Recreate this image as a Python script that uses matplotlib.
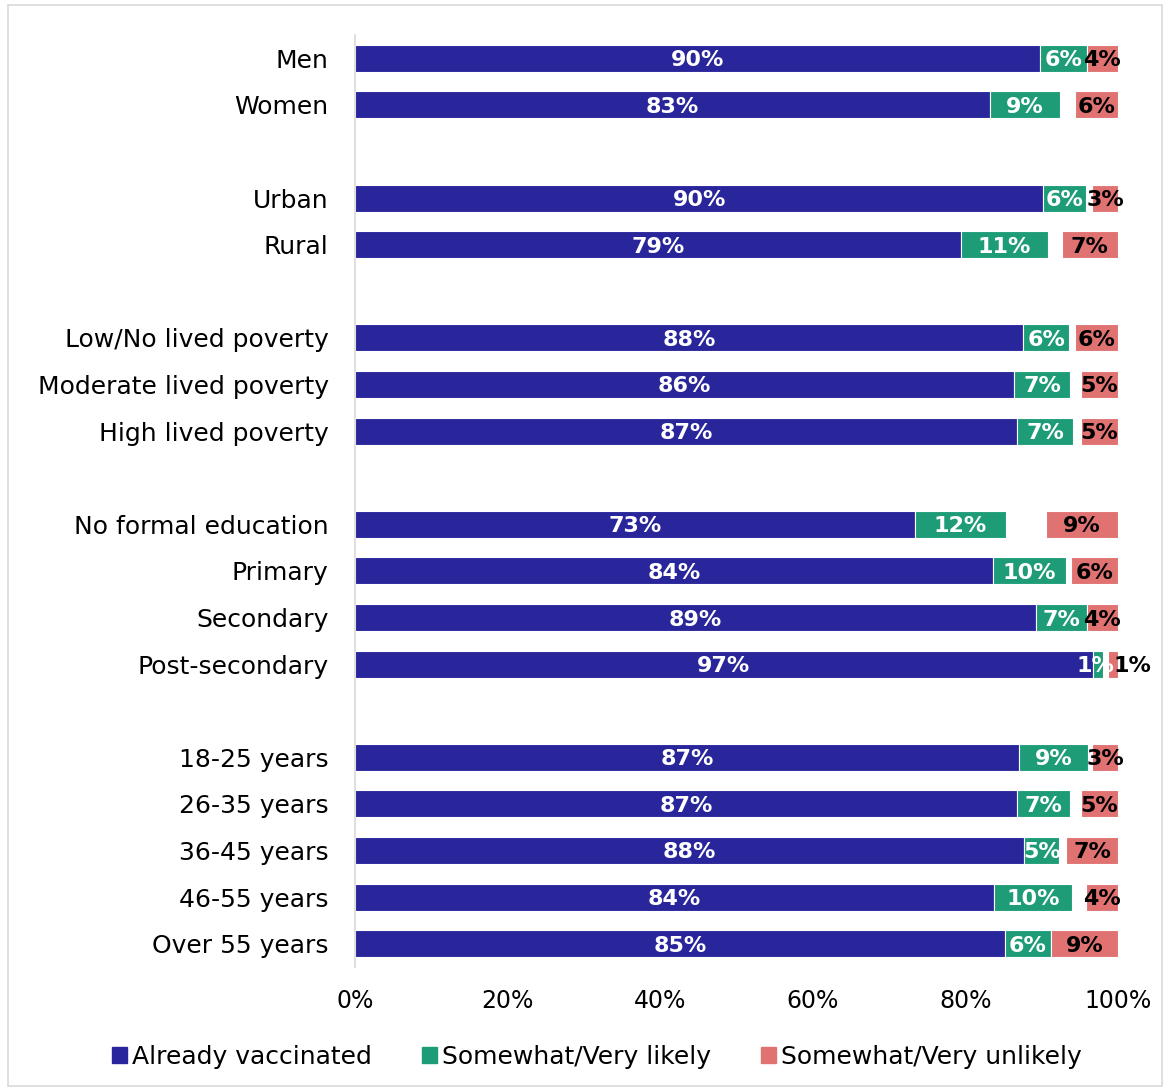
import matplotlib
matplotlib.use("Agg")
import matplotlib.pyplot as plt
from matplotlib.patches import Rectangle

categories = ["Men", "Women", "", "Urban", "Rural", "",
              "Low/No lived poverty", "Moderate lived poverty", "High lived poverty", "",
              "No formal education", "Primary", "Secondary", "Post-secondary", "",
              "18-25 years", "26-35 years", "36-45 years", "46-55 years", "Over 55 years"]
vaccinated = [89.8, 83.2, None, 90.2, 79.4, None, 87.6, 86.4, 86.8, None,
              73.4, 83.6, 89.3, 96.7, None, 87.0, 86.8, 87.7, 83.7, 85.2]
likely = [6.1, 9.2, None, 5.6, 11.4, None, 6.0, 7.3, 7.3, None,
          11.9, 9.6, 6.6, 1.3, None, 9.1, 6.9, 4.6, 10.3, 6.0]
unlikely = [4.1, 5.6, None, 3.4, 7.4, None, 5.6, 4.9, 4.9, None,
            9.4, 6.2, 4.1, 1.3, None, 3.4, 4.9, 6.8, 4.2, 8.8]
series_names = ["Already vaccinated", "Somewhat/Very likely", "Somewhat/Very unlikely"]
colors = ["#29259a", "#1e9c78", "#e07272"]
xticks = [0, 20, 40, 60, 80, 100]

plt.rcParams['font.family'] = ['DejaVu Sans']
fig = plt.figure(figsize=(11.7, 10.88), dpi=100)
ax = fig.add_axes([355/1170, 1-967/1088, (1118-355)/1170, (967-35)/1088])

bh = 0.58
lab_kw = dict(ha="center", va="center_baseline", fontsize=16, fontweight="bold")
for i, cat in enumerate(categories):
    if vaccinated[i] is None:
        continue
    v, l, u = vaccinated[i], likely[i], unlikely[i]
    ax.barh(i, v, left=0, height=bh, color=colors[0], edgecolor="white", linewidth=0.8)
    ax.barh(i, l, left=v, height=bh, color=colors[1], edgecolor="white", linewidth=0.8)
    ax.barh(i, u, left=100-u, height=bh, color=colors[2], edgecolor="white", linewidth=0.8)
    ax.text(v/2, i, f"{round(v)}%", color="white", **lab_kw)
    if l < 2:
        ax.annotate(f"{round(l)}%", (v + l/2, i), xytext=(-2, 0),
                    textcoords="offset points", color="white", **lab_kw)
    else:
        ax.text(v + l/2, i, f"{round(l)}%", color="white", **lab_kw)
    if u < 2:
        ax.annotate(f"{round(u)}%", (100 - u/2, i), xytext=(14, 0),
                    textcoords="offset points", color="black", **lab_kw)
    else:
        ax.text(100 - u/2, i, f"{round(u)}%", color="black", **lab_kw)

ax.set_xlim(0, 100)
ax.set_ylim(19.5, -0.5)
ax.set_yticks([i for i, c in enumerate(categories) if c])
ax.set_yticklabels([c for c in categories if c], fontsize=18)
ax.set_xticks(xticks)
ax.set_xticklabels([f"{t}%" for t in xticks], fontsize=17)
ax.tick_params(axis="both", length=0)
ax.tick_params(axis="y", pad=19)
ax.tick_params(axis="x", pad=16)
for s in ["top", "right", "bottom"]:
    ax.spines[s].set_visible(False)
ax.spines["left"].set_color("#d9d9d9")
ax.spines["left"].set_linewidth(1.2)

handles = [Rectangle((0, 0), 1, 1, color=c) for c in colors]
fig.legend(handles, series_names, loc="center", bbox_to_anchor=(0.51, 1-1057/1088),
           ncol=3, frameon=False, fontsize=18, handlelength=0.6, handleheight=0.6,
           handletextpad=0.2, columnspacing=2.0)

fig.patches.append(Rectangle((8/1170, 2/1088), 1154/1170, 1081/1088, transform=fig.transFigure,
                             fill=False, edgecolor="#d9d9d9", linewidth=1.2))
fig.savefig("out.png", dpi=100)
